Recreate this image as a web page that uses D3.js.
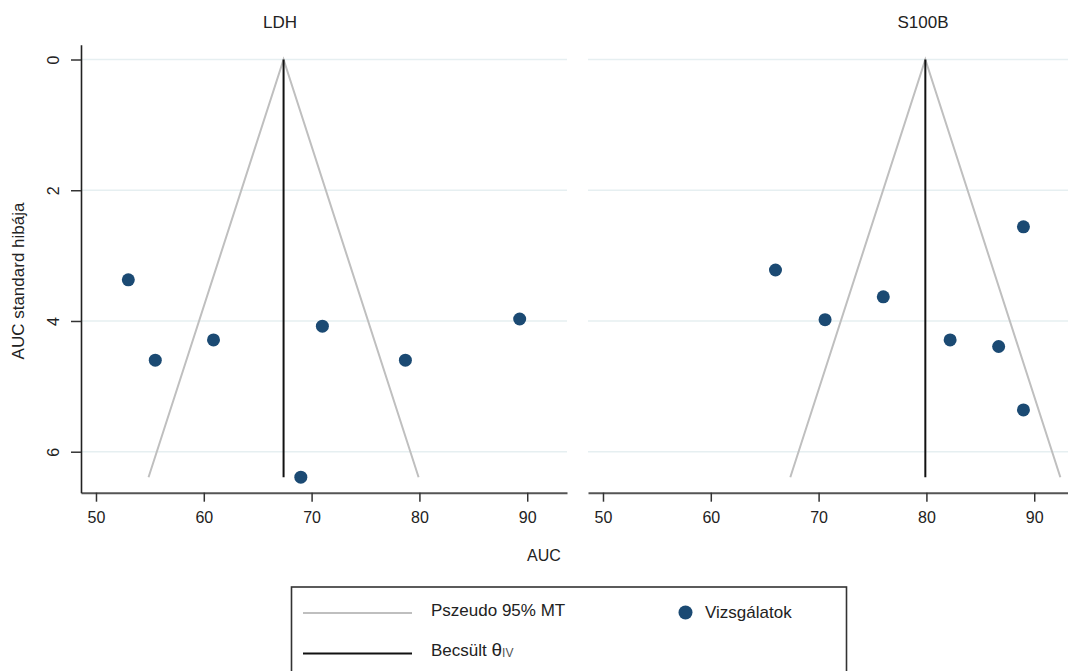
<!DOCTYPE html>
<html>
<head>
<meta charset="utf-8">
<script src="https://cdn.jsdelivr.net/npm/d3@7/dist/d3.min.js"></script>
<style>
  html, body { margin: 0; padding: 0; background: #fff; }
  svg { display: block; font-family: "Liberation Sans", Arial, Helvetica, sans-serif; }
</style>
</head>
<body>
<svg id="chart" width="1068" height="671"></svg>
<script>
// Panels (biomarkers) and their pooled inverse-variance estimates
const panels = ["LDH", "S100B"];
const pooledTheta = [67.4, 79.9];

// Study-level AUC values and their standard errors
const ldhAUC = [53.0, 55.5, 60.9, 71.0, 78.7, 89.3, 69.0];
const ldhSE  = [3.37, 4.60, 4.29, 4.08, 4.60, 3.97, 6.39];
const s100bAUC = [66.0, 70.6, 76.0, 82.2, 86.7, 89.0, 89.0];
const s100bSE  = [3.22, 3.98, 3.63, 4.29, 4.39, 2.56, 5.36];

// Axis ticks
const xTicks = [50, 60, 70, 80, 90];
const yTicks = [0, 2, 4, 6];

// Legend labels
const legendLine1 = "Pszeudo 95% MT";
const legendLine2 = "Becsült ";
const legendDots = "Vizsgálatok";

const studies = [
  ldhAUC.map((v, i) => ({ auc: v, se: ldhSE[i] })),
  s100bAUC.map((v, i) => ({ auc: v, se: s100bSE[i] }))
];
const funnelMaxSE = d3.max([...ldhSE, ...s100bSE]);

const svg = d3.select("#chart");
const dotColor = "#1b4a73";
const panelLeft = [81, 588];
const panelWidth = 486;
const font = "Liberation Sans, Arial, sans-serif";

const y = d3.scaleLinear().domain([-0.225, 6.627]).range([44.8, 492.7]);

panels.forEach((name, p) => {
  const x0 = panelLeft[p];
  const x = d3.scaleLinear().domain([48.61, 93.69]).range([x0, x0 + panelWidth]);
  const g = svg.append("g");

  // horizontal grid
  g.selectAll("line.grid").data(yTicks).join("line")
    .attr("class", "grid")
    .attr("x1", x0).attr("x2", x0 + panelWidth)
    .attr("y1", d => y(d)).attr("y2", d => y(d))
    .attr("stroke", "#e6eff1").attr("stroke-width", 1.6);

  // pseudo 95% confidence limits
  const theta = pooledTheta[p];
  const funnel = [
    [theta - 1.96 * funnelMaxSE, funnelMaxSE],
    [theta, 0],
    [theta + 1.96 * funnelMaxSE, funnelMaxSE]
  ];
  g.append("path")
    .attr("d", d3.line().x(d => x(d[0])).y(d => y(d[1]))(funnel))
    .attr("fill", "none").attr("stroke", "#bfbfbf").attr("stroke-width", 2);

  // pooled estimate
  g.append("line")
    .attr("x1", x(theta)).attr("x2", x(theta))
    .attr("y1", y(0)).attr("y2", y(funnelMaxSE))
    .attr("stroke", "#111").attr("stroke-width", 2);

  // studies
  g.selectAll("circle").data(studies[p]).join("circle")
    .attr("cx", d => x(d.auc)).attr("cy", d => y(d.se))
    .attr("r", 6.5).attr("fill", dotColor);

  // x axis
  const xAxis = g.append("g")
    .attr("transform", `translate(0,${y.range()[1]})`)
    .call(d3.axisBottom(x).tickValues(xTicks).tickFormat(d3.format("d"))
      .tickSize(9).tickSizeOuter(0).tickPadding(10));
  xAxis.select(".domain").attr("stroke", "#555").attr("stroke-width", 2);
  xAxis.selectAll(".tick line").attr("stroke", "#333").attr("stroke-width", 1.5);
  xAxis.selectAll(".tick text").attr("font-size", 16).attr("fill", "#222")
    .attr("font-family", font);

  // panel title
  svg.append("text")
    .attr("x", p === 0 ? 280 : 923).attr("y", 28)
    .attr("text-anchor", "middle").attr("font-size", 17).attr("fill", "#222")
    .text(name);
});

// y axis (left panel only)
const yAxis = svg.append("g")
  .attr("transform", `translate(${panelLeft[0]},0)`)
  .call(d3.axisLeft(y).tickValues(yTicks).tickFormat(d3.format("d"))
    .tickSize(10).tickSizeOuter(0));
yAxis.select(".domain").attr("stroke", "#222").attr("stroke-width", 1.6);
yAxis.selectAll(".tick line").attr("stroke", "#333").attr("stroke-width", 1.5);
yAxis.selectAll(".tick text")
  .attr("font-size", 16).attr("fill", "#222")
  .attr("font-family", font)
  .attr("text-anchor", "middle")
  .attr("transform", "rotate(-90)")
  .attr("x", 0).attr("y", -28).attr("dy", "0.35em");

// axis titles
svg.append("text")
  .attr("transform", "translate(18.5,281) rotate(-90)")
  .attr("text-anchor", "middle").attr("dy", "0.35em")
  .attr("font-size", 17).attr("fill", "#222")
  .text("AUC standard hibája");
svg.append("text")
  .attr("x", 544).attr("y", 561)
  .attr("text-anchor", "middle").attr("font-size", 16).attr("fill", "#222")
  .text("AUC");

// legend
const lg = svg.append("g");
lg.append("rect")
  .attr("x", 291.5).attr("y", 587).attr("width", 555).attr("height", 100)
  .attr("fill", "#fff").attr("stroke", "#333").attr("stroke-width", 1.6);
lg.append("line")
  .attr("x1", 303).attr("x2", 412).attr("y1", 613).attr("y2", 613)
  .attr("stroke", "#bfbfbf").attr("stroke-width", 2);
lg.append("line")
  .attr("x1", 303).attr("x2", 412).attr("y1", 653.5).attr("y2", 653.5)
  .attr("stroke", "#111").attr("stroke-width", 2);
lg.append("text")
  .attr("x", 431).attr("y", 616).attr("font-size", 17).attr("fill", "#222")
  .text(legendLine1);
const t2 = lg.append("text")
  .attr("x", 431).attr("y", 656).attr("font-size", 17).attr("fill", "#222");
t2.append("tspan").text(legendLine2);
t2.append("tspan").attr("font-size", 19).text("θ");
t2.append("tspan").attr("font-size", 12).attr("fill", "#555").attr("dy", 1).text("IV");
lg.append("circle")
  .attr("cx", 685.5).attr("cy", 612.5).attr("r", 7).attr("fill", dotColor);
lg.append("text")
  .attr("x", 705).attr("y", 618).attr("font-size", 17).attr("fill", "#222")
  .text(legendDots);
</script>
</body>
</html>
